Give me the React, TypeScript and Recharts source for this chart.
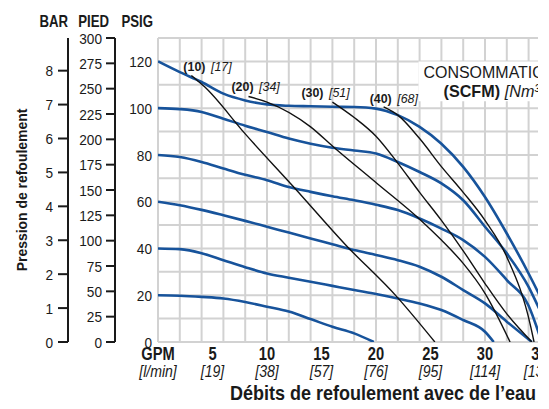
import React from 'react';
import { ComposedChart, Line, XAxis, YAxis, CartesianGrid, ReferenceArea, Label } from 'recharts';

const FONT = "'Liberation Sans', Arial, sans-serif";

// X axis (GPM) ticks and labels
const gpmTicks = [0, 5, 10, 15, 20, 25, 30, 35, 40];
const gpmLabels = ['GPM', '5', '10', '15', '20', '25', '30', '35', '40'];
const lpmLabels = ['[l/min]', '[19]', '[38]', '[57]', '[76]', '[95]', '[114]', '[133]', '[151]'];

// Y axes
const psigTicks = [0, 10, 20, 30, 40, 50, 60, 70, 80, 90, 100, 110, 120, 130];
const psigLabelled = [0, 20, 40, 60, 80, 100, 120];
const piedTicks = [0, 25, 50, 75, 100, 125, 150, 175, 200, 225, 250, 275, 300];
const barTicks = [0, 1, 2, 3, 4, 5, 6, 7, 8];
const gridX = [0, 2, 4, 6, 8, 10, 12, 14, 16, 18, 20, 22, 24, 26, 28, 30, 32, 34, 36, 38, 40];
const gridY = [0, 10, 20, 30, 40, 50, 60, 70, 80, 90, 100, 110, 120, 130];

// Inlet air pressure curves [GPM, PSIG]
const air20 = [[0, 20], [2, 19.8], [4, 19.3], [6, 18.6], [8, 17.1], [10, 15.1], [12, 13], [14, 9.8], [16, 6.5], [18, 3.7], [19.8, 0]];
const air40 = [[0, 40], [2, 39.7], [4, 38], [6, 35], [8, 32], [10, 29.3], [12, 27.5], [14, 25.8], [16, 24], [18, 22.2], [20, 20.5], [22, 18.6], [24, 16.5], [26, 13.7], [28, 9.4], [30, 4.4], [30.8, 0]];
const air60 = [[0, 60], [2, 58.5], [4, 56.5], [6, 54.2], [8, 51.8], [10, 49.3], [12, 46.8], [14, 44.3], [16, 41.8], [18, 39.3], [20, 37.2], [22, 35], [24, 32.2], [26, 27.9], [28, 22.2], [30, 16.5], [32, 8.7], [34.3, 0]];
const air80 = [[0, 80], [2, 79.1], [4, 77], [6, 74.2], [8, 71.5], [10, 69.2], [12, 66.3], [14, 64.2], [16, 62.3], [18, 60.6], [20, 58.7], [22, 56.4], [24, 52.8], [26, 48.5], [28, 43.6], [30, 36.4], [32, 26.5], [34, 15.5], [35.2, 0]];
const air100 = [[0, 100], [2, 99.6], [4, 98.4], [6, 95.5], [8, 92.5], [10, 89.8], [12, 87], [14, 84.8], [16, 83.1], [18, 81.9], [20, 80.6], [22, 77], [24, 72.7], [26, 67.8], [28, 60.6], [30, 49.3], [32, 37.9], [34, 23.6], [35, 14], [36, 5]];
const air120 = [[0, 120], [2, 115.4], [4, 111.2], [6, 106.2], [8, 103.3], [10, 101.6], [12, 101], [14, 100.8], [16, 100.6], [18, 100.5], [20, 99.8], [22, 97], [24, 92], [26, 84.8], [28, 74.9], [30, 62], [32, 46.4], [34, 29.3], [35, 20], [36, 10]];

// Air consumption curves [GPM, PSIG]
const cons10 = [[3.06, 114], [4.3, 109], [8, 89], [12.45, 66.3], [17.2, 41.6], [21.9, 19.4], [25.4, 0]];
const cons20 = [[8.3, 105], [10, 102.6], [14, 92], [16.1, 83.4], [20.1, 67.8], [24.1, 52.1], [26, 43.6], [28, 33.6], [30, 20.8], [32.3, 0]];
const cons30 = [[16, 102.6], [18, 96], [20, 88], [22, 76.5], [24, 64], [26, 52], [28, 39], [30, 25], [32, 12], [34.3, 0]];
const cons40 = [[20.7, 100.5], [22, 97], [24, 87], [26, 75], [28, 64], [30, 52], [32, 36.4], [34.2, 6.5], [34.5, 0]];

const consScfm = ['(10)', '(20)', '(30)', '(40)'];
const consNm3 = ['[17]', '[34]', '[51]', '[68]'];

const airSeries = [air20, air40, air60, air80, air100, air120];
const consSeries = [cons10, cons20, cons30, cons40];
const consLabelDx = [-8, -17, -31, -14];
const consLabelDy = [-4, -5, -5, -4];

const toData = (arr: number[][]) => arr.map(([gpm, psi]) => ({ gpm, psi }));

const BLUE = '#17539b';
const INK = '#1a1a1a';

type NTProps = {
  x: number;
  y: number;
  sx?: number;
  rot?: number;
  anchor?: 'start' | 'middle' | 'end';
  size: number;
  bold?: boolean;
  italic?: boolean;
  dy?: string;
  children?: React.ReactNode;
};

// Narrowed text (condensed look) - still real SVG text
const NText = ({ x, y, sx = 0.85, rot = 0, anchor = 'start', size, bold, italic, dy, children }: NTProps) => (
  <text
    transform={`translate(${x},${y})${rot ? ` rotate(${rot})` : ''} scale(${sx},1)`}
    x={0}
    y={0}
    dy={dy}
    textAnchor={anchor}
    fontFamily={FONT}
    fontSize={size}
    fontWeight={bold ? 'bold' : 'normal'}
    fontStyle={italic ? 'italic' : 'normal'}
    fill={INK}
  >
    {children}
  </text>
);

const XTick = (props: any) => {
  const { x, y, payload } = props;
  const i = gpmTicks.indexOf(payload.value);
  if (i < 0) return null;
  return (
    <g>
      <NText x={x} y={y + 18} anchor="middle" size={17.5} bold sx={0.84}>
        {gpmLabels[i]}
      </NText>
      <NText x={x} y={y + 35} anchor="middle" size={16} italic sx={0.88}>
        {lpmLabels[i]}
      </NText>
    </g>
  );
};

const PsigTick = (props: any) => {
  const { x, y, payload } = props;
  if (!psigLabelled.includes(payload.value)) return null;
  return (
    <NText x={x} y={y} dy="0.36em" anchor="end" size={15.5} sx={0.88}>
      {payload.value}
    </NText>
  );
};

const PlainTick = (props: any) => {
  const { x, y, payload } = props;
  return (
    <NText x={x} y={y} dy="0.36em" anchor="end" size={15.5} sx={0.88}>
      {payload.value}
    </NText>
  );
};

const header = (text: string, dxFromRight: number) => (props: any) => {
  const vb = props.viewBox || {};
  return (
    <NText x={vb.x + vb.width - dxFromRight} y={27} anchor="end" size={16.5} bold sx={0.8}>
      {text}
    </NText>
  );
};

const yTitle = (props: any) => {
  const vb = props.viewBox || {};
  const cx = vb.x - 1;
  const cy = 190;
  return (
    <NText x={cx} y={cy} rot={-90} anchor="middle" size={15} bold sx={0.93}>
      Pression de refoulement
    </NText>
  );
};

const xTitle = (props: any) => {
  const vb = props.viewBox || {};
  return (
    <NText x={vb.x + 225} y={400} anchor="middle" size={20} bold sx={0.9}>
      Débits de refoulement avec de l’eau
    </NText>
  );
};

const boxLabel = (props: any) => {
  const vb = props.viewBox || {};
  return (
    <g>
      <NText x={vb.x + 5} y={vb.y + 17} size={16.3} sx={0.98}>
        CONSOMMATION D’AIR
      </NText>
      <NText x={vb.x + 25} y={vb.y + 36} size={17} sx={0.95}>
        <tspan fontWeight="bold">(SCFM)</tspan>
        <tspan fontStyle="italic" dx={5}>[Nm³/h]</tspan>
      </NText>
    </g>
  );
};

const consLabel = (k: number) => (props: any) => {
  if (props.index !== 0) return null;
  const px = props.x ?? props.viewBox?.x;
  const py = props.y ?? props.viewBox?.y;
  return (
    <NText x={px + consLabelDx[k]} y={py + consLabelDy[k]} size={13.5} sx={0.92}>
      <tspan fontWeight="bold">{consScfm[k]}</tspan>
      <tspan fontStyle="italic" dx={6}>{consNm3[k]}</tspan>
    </NText>
  );
};

export default function App() {
  return (
    <div style={{ position: 'absolute', left: 0, top: 0, width: 538, height: 409, overflow: 'hidden', background: '#fff' }}>
      <ComposedChart width={610} height={409} margin={{ top: 38, right: 16, bottom: 0, left: 28 }}>
        <CartesianGrid
          xAxisId="gpm"
          yAxisId="a_psig"
          verticalValues={gridX}
          horizontalValues={gridY}
          stroke="#d2d2d2"
          strokeWidth={2}
          fill="#fff"
        />
        <XAxis
          xAxisId="gpm"
          type="number"
          dataKey="gpm"
          domain={[0, 40]}
          ticks={gpmTicks}
          interval={0}
          axisLine={false}
          tickLine={false}
          tickSize={0}
          tickMargin={0}
          height={67}
          tick={<XTick />}
          allowDataOverflow
        >
          <Label content={xTitle} />
        </XAxis>
        <YAxis
          yAxisId="a_psig"
          type="number"
          domain={[0, 130]}
          ticks={psigTicks}
          interval={0}
          width={43}
          axisLine={false}
          tickLine={false}
          tickSize={0}
          tickMargin={6}
          tick={<PsigTick />}
          allowDataOverflow
        >
          <Label content={header('PSIG', 5)} />
        </YAxis>
        <YAxis
          yAxisId="b_pied"
          type="number"
          domain={[0, 300]}
          ticks={piedTicks}
          interval={0}
          width={47}
          axisLine={{ stroke: INK, strokeWidth: 2 }}
          tickLine={{ stroke: INK, strokeWidth: 2 }}
          tickSize={9}
          tickMargin={4}
          tick={<PlainTick />}
          allowDataOverflow
        >
          <Label content={header('PIED', 6)} />
        </YAxis>
        <YAxis
          yAxisId="c_bar"
          type="number"
          domain={[0, 130 / 14.5038]}
          ticks={barTicks}
          interval={0}
          width={40}
          axisLine={{ stroke: INK, strokeWidth: 2 }}
          tickLine={{ stroke: INK, strokeWidth: 2 }}
          tickSize={10}
          tickMargin={5}
          tick={<PlainTick />}
          allowDataOverflow
        >
          <Label content={header('BAR', 0)} />
          <Label content={yTitle} />
        </YAxis>
        <ReferenceArea
          xAxisId="gpm"
          yAxisId="a_psig"
          x1={23.9}
          x2={40}
          y1={103}
          y2={120}
          fill="#fff"
          fillOpacity={1}
          stroke="none"
          ifOverflow="visible"
          label={boxLabel}
        />
        {airSeries.map((s, i) => (
          <Line
            key={`air${i}`}
            xAxisId="gpm"
            yAxisId="a_psig"
            data={toData(s)}
            dataKey="psi"
            type="monotone"
            stroke={BLUE}
            strokeWidth={2.6}
            dot={false}
            activeDot={false}
            isAnimationActive={false}
          />
        ))}
        {consSeries.map((s, i) => (
          <Line
            key={`cons${i}`}
            xAxisId="gpm"
            yAxisId="a_psig"
            data={toData(s)}
            dataKey="psi"
            type="monotone"
            stroke="#111"
            strokeWidth={1.4}
            dot={false}
            activeDot={false}
            isAnimationActive={false}
            label={consLabel(i)}
          />
        ))}
      </ComposedChart>
    </div>
  );
}
